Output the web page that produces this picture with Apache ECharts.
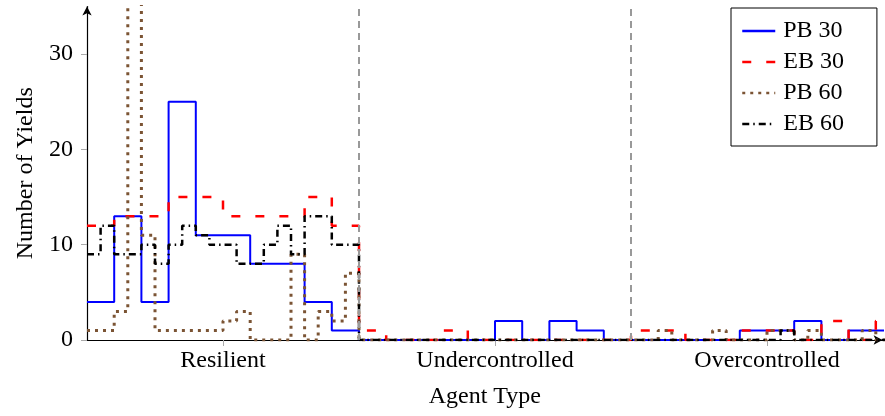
<!DOCTYPE html>
<html>
<head>
<meta charset="utf-8">
<script src="https://cdn.jsdelivr.net/npm/echarts@6/dist/echarts.min.js"></script>
<style>html,body{margin:0;padding:0;background:#fff}#c{width:885px;height:416px}</style>
</head>
<body>
<div id="c"></div>
<script>
const groups = ['Resilient', 'Undercontrolled', 'Overcontrolled'];
const yTicks = [0, 10, 20, 30];
const pb30 = [4,13,4,25,11,11,8,8,4,1, 0,0,0,0,0,2,0,2,1,0, 0,0,0,0,1,1,2,0,1,1];
const eb30 = [12,13,13,15,15,13,13,13,15,12, 1,0,0,1,0,0,0,0,0,0, 1,1,0,0,1,1,0,2,0,2];
const pb60 = [1,1,3,38,11,1,1,1,1,1,2,3,0,0,0,9,0,3,2,7,
              0,0,0,0,0,0,0,0,0,0,0,0,0,0,0,0,0,0,0,0,
              0,0,1,0,0,0,1,0,0,0,1,1,0,1,0,0,0,1,0,0];
const eb60 = [9,12,9,9,10,8,10,12,11,10,10,8,8,10,12,9,13,13,10,10,
              0,0,0,0,0,0,0,0,0,0,0,0,0,0,0,0,0,0,0,0,
              0,0,0,0,0,0,0,0,0,0,0,1,0,0,0,0,0,0,0,0];
const groupSize = 10;
const xEnd = 30;

function steps(vals) {
  const w = xEnd / vals.length;
  const pts = vals.map((v, i) => [i * w, v]);
  pts.push([xEnd, vals[vals.length - 1]]);
  return pts;
}
const centers = groups.map((g, i) => i * groupSize + groupSize / 2);
const boundaries = groups.slice(1).map((g, i) => (i + 1) * groupSize);

const FONT = 'Liberation Serif';
const chart = echarts.init(document.getElementById('c'));
const baseX = { type: 'value', min: 0, max: 29.25, gridIndex: 0 };
const baseY = { type: 'value', min: 0, max: 35, interval: 10, gridIndex: 0 };
chart.setOption({
  animation: false,
  backgroundColor: '#fff',
  grid: { left: 87, top: 6.5, width: 795.6, height: 333.5 },
  xAxis: [
    Object.assign({}, baseX, {
      axisLine: { show: true, lineStyle: { color: '#000', width: 1.2 }, symbol: ['none', 'arrow'], symbolSize: [7, 9] },
      axisTick: { show: true, length: 5, lineStyle: { color: '#aaa', width: 1 }, customValues: centers },
      axisLabel: { show: true, customValues: centers, margin: 9,
        formatter: v => groups[Math.round((v - groupSize / 2) / groupSize)] || '',
        fontFamily: FONT, fontSize: 24, color: '#000' },
      splitLine: { show: false },
      name: 'Agent Type', nameLocation: 'middle', nameGap: 45,
      nameTextStyle: { fontFamily: FONT, fontSize: 24, color: '#000' }
    }),
    Object.assign({}, baseX, {
      axisLine: { show: false },
      axisTick: { show: true, inside: true, length: 6, lineStyle: { color: '#aaa', width: 1 }, customValues: centers },
      axisLabel: { show: false }, splitLine: { show: false }
    })
  ],
  yAxis: [
    Object.assign({}, baseY, {
      axisLine: { show: true, lineStyle: { color: '#000', width: 1.2 }, symbol: ['none', 'arrow'], symbolSize: [7, 9] },
      axisTick: { show: true, length: 5, lineStyle: { color: '#aaa', width: 1 }, customValues: yTicks },
      axisLabel: { customValues: yTicks, margin: 14, fontFamily: FONT, fontSize: 24, color: '#000' },
      splitLine: { show: false },
      name: 'Number of Yields', nameLocation: 'middle', nameGap: 47, nameRotate: 90,
      nameTextStyle: { fontFamily: FONT, fontSize: 24, color: '#000' }
    }),
    Object.assign({}, baseY, {
      axisLine: { show: false },
      axisTick: { show: true, inside: true, length: 6, lineStyle: { color: '#aaa', width: 1 }, customValues: yTicks },
      axisLabel: { show: false }, splitLine: { show: false }
    })
  ],
  legend: {
    orient: 'vertical', left: 731, top: 8,
    padding: [11, 33, 10, 10],
    itemGap: 7, itemWidth: 33, itemHeight: 14,
    backgroundColor: '#fff', borderColor: '#000', borderWidth: 1, borderRadius: 0,
    itemStyle: { opacity: 0 },
    lineStyle: { width: 2.5 },
    textStyle: { fontFamily: FONT, fontSize: 24, color: '#000', lineHeight: 24, padding: [0, 0, 0, 3] },
    data: ['PB 30', 'EB 30', 'PB 60', 'EB 60']
  },
  series: [
    { name: 'PB 30', type: 'line', step: 'end', symbol: 'none', data: steps(pb30),
      lineStyle: { color: '#0000ff', width: 2 }, itemStyle: { color: '#0000ff' },
      markLine: { silent: true, symbol: 'none', label: { show: false },
        lineStyle: { color: '#999', width: 2, type: [7, 5] },
        data: boundaries.map(b => ({ xAxis: b })) } },
    { name: 'EB 30', type: 'line', step: 'end', symbol: 'none', data: steps(eb30),
      lineStyle: { color: '#ff0000', width: 2.5, type: [9, 15] }, itemStyle: { color: '#ff0000' } },
    { name: 'PB 60', type: 'line', step: 'end', symbol: 'none', data: steps(pb60),
      lineStyle: { color: '#7b5434', width: 3, type: [3, 5], cap: 'butt' }, itemStyle: { color: '#7b5434' } },
    { name: 'EB 60', type: 'line', step: 'end', symbol: 'none', data: steps(eb60),
      lineStyle: { color: '#000', width: 2.5, type: [7, 4, 1.5, 4] }, itemStyle: { color: '#000' } }
  ]
});
</script>
</body>
</html>
